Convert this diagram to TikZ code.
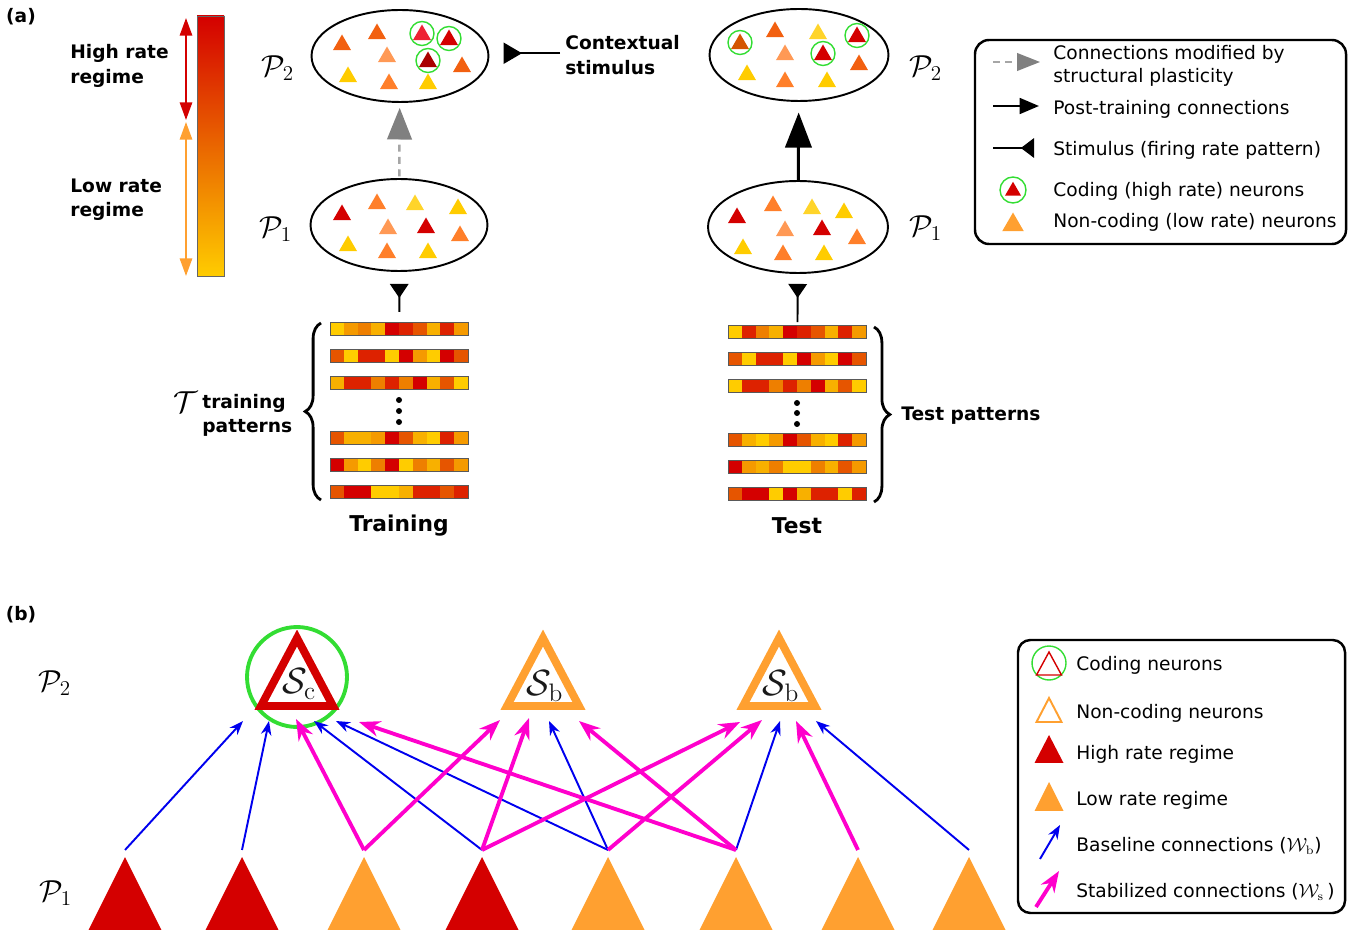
\documentclass[tikz,border=0pt]{standalone}
\usepackage{amsmath}
\usepackage[no-math]{fontspec}
\setmainfont{DejaVu Sans}
\usetikzlibrary{arrows.meta,shapes.geometric,decorations.pathreplacing}

% colours
\definecolor{hired}{HTML}{D40000}
\definecolor{loorange}{HTML}{FFA030}
\definecolor{codegreen}{HTML}{33DD33}
\definecolor{baseblue}{HTML}{0000EE}
\definecolor{stabpink}{HTML}{FF00CC}
\definecolor{nred}{HTML}{D40000}
\definecolor{ndark}{HTML}{AA0000}
\definecolor{nbright}{HTML}{EE2233}
\definecolor{nbrown}{HTML}{D45500}
\definecolor{nored}{HTML}{F26010}
\definecolor{norange}{HTML}{FF7F2A}
\definecolor{nlight}{HTML}{FF9955}
\definecolor{nyellow}{HTML}{FFCC00}
\definecolor{ngold}{HTML}{FFD42A}
\definecolor{ra}{HTML}{D40000}
\definecolor{rb}{HTML}{DD2200}
\definecolor{rc}{HTML}{E65500}
\definecolor{rd}{HTML}{EE7F00}
\definecolor{re}{HTML}{F59A00}
\definecolor{rf}{HTML}{F8B000}
\definecolor{rg}{HTML}{FFCC00}

% one firing rate pattern: left, top, ten cell colours, name
\newcommand{\ratebar}[4]{%
  \foreach \c [count=\k from 0] in {#3}
    \fill[\c] ({#1+13.8*\k},#2) rectangle ++(13.8,13);
  \node[barframe, anchor=north west] (#4) at (#1,#2) {};
}

\begin{document}
\begin{tikzpicture}[x=0.02cm, y=-0.02cm,
    every node/.style={font=\fontsize{10.6}{13.5}\selectfont, inner sep=0pt},
    lbl/.style={font=\fontsize{10.6}{13.8}\selectfont\bfseries, align=left},
    legtext/.style={anchor=west, align=left},
    poplbl/.style={font=\fontsize{17}{20}\selectfont},
    pop/.style={ellipse, draw, line width=1.1pt, minimum width=3.54cm, minimum height=1.84cm},
    neuron/.style={regular polygon, regular polygon sides=3, minimum size=0.42cm},
    ring/.style={circle, draw=codegreen, line width=0.8pt, minimum size=0.48cm},
    barframe/.style={draw=black!65, line width=0.5pt, minimum width=2.76cm, minimum height=0.26cm},
    plastic/.style={draw=black!35, dash pattern=on 4pt off 3pt, line width=1.4pt, -{Triangle[length=18pt, width=14pt, color=black!50]}},
    posttrain/.style={line width=1.7pt, -{Triangle[length=20pt, width=15pt]}},
    stim/.style={line width=1.1pt, -{Triangle[reversed, length=8pt, width=10.5pt]}},
    regime/.style={line width=1.1pt, >={Triangle[length=10pt, width=7pt]}, <->},
    brc/.style={decorate, decoration={brace, amplitude=9pt}, line width=1.6pt},
    tri/.style 2 args={isosceles triangle, isosceles triangle stretches, shape border rotate=90, minimum width=#1, minimum height=#2, outer sep=0pt},
    sgroup/.style={tri={1.44cm}{1.36cm}, line width=4.5pt, fill=white},
    basecon/.style={baseblue, line width=1.1pt, -{Stealth[length=8pt, width=6pt]}},
    stabcon/.style={stabpink, line width=2.2pt, -{Stealth[length=12pt, width=9pt]}}]
  \useasboundingbox (0,0) rectangle (1365,935);

  % (a) rate scale
  \node[lbl] at (21,17) {(a)};
  \shade[top color=hired, bottom color=nyellow] (197,16) rectangle (224,276);
  \draw[black!60, line width=0.5pt] (197,16) rectangle (224,276);
  \draw[regime, hired] (186,18) -- (186,120);
  \draw[regime, loorange] (186,122) -- (186,276);
  \node[lbl, anchor=west] at (70,66) {High rate\\regime};
  \node[lbl, anchor=west] at (70,200) {Low rate\\regime};

  % Populations
  \node[pop] (p2L) at (400,56) {};
  \node[pop] (p1L) at (399,225) {};
  \node[pop, minimum width=3.58cm] (p2R) at (799,55) {};
  \node[pop, minimum width=3.6cm] (p1R) at (798,227) {};
  \node[poplbl] at (278,68) {$\mathcal{P}_2$};
  \node[poplbl] at (276,229) {$\mathcal{P}_1$};
  \node[poplbl] at (926,68) {$\mathcal{P}_2$};
  \node[poplbl] at (926,228) {$\mathcal{P}_1$};

  % neurons inside the populations
  \foreach \x/\y/\c [count=\i] in {342/43/nored, 377/32/nored, 422/33/nbright, 449/38/nred, 387/55/nlight, 428/60/ndark, 462/65/nored, 348/75/nyellow, 389/82/norange, 428/82/nyellow}
    \node[neuron, fill=\c] (twoL\i) at (\x,\y+2) {};
  \foreach \x/\y/\c [count=\i] in {740/42/nbrown, 775/30/nored, 818/32/ngold, 857/35/nred, 785/53/nlight, 823/53/nred, 859/63/nored, 747/73/nyellow, 785/80/norange, 827/80/nyellow}
    \node[neuron, fill=\c] (twoR\i) at (\x,\y+2) {};
  \foreach \x/\y/\c [count=\i] in {342/213/nred, 377/202/norange, 415/203/ngold, 458/207/nyellow, 388/227/nlight, 426/226/nred, 460/234/norange, 348/244/nyellow, 387/251/norange, 428/251/nyellow}
    \node[neuron, fill=\c] (oneL\i) at (\x,\y+2) {};
  \foreach \x/\y/\c [count=\i] in {737/216/nred, 773/204/norange, 812/207/ngold, 844/211/nyellow, 785/229/nlight, 822/228/nred, 857/237/norange, 743/247/nyellow, 783/253/norange, 824/253/nyellow}
    \node[neuron, fill=\c] (oneR\i) at (\x,\y+2) {};
  \foreach \x/\y [count=\i] in {422/33, 449/38, 428/60}
    \node[ring] (codeL\i) at (\x,\y+0.5) {};
  \foreach \x/\y [count=\i] in {740/42, 857/35, 823/53}
    \node[ring] (codeR\i) at (\x,\y+0.5) {};

  % Patterns
  \ratebar{330}{322}{rg,re,rd,rf,ra,rb,rc,rf,rb,re}{trainA}
  \ratebar{330}{349}{rc,rg,rb,rb,rg,ra,re,rg,ra,rc}{trainB}
  \ratebar{330}{376}{rf,rb,rb,rd,rb,rd,ra,rf,rc,rg}{trainC}
  \ratebar{330}{431}{rc,rf,rf,re,ra,rc,rf,rg,rb,re}{trainD}
  \ratebar{330}{458}{ra,re,rg,rd,ra,rg,rd,rf,rc,re}{trainE}
  \ratebar{330}{485}{rc,ra,ra,rg,rg,rf,rb,rb,rc,rb}{trainF}
  \ratebar{728}{325}{rg,rb,rd,rf,ra,rb,rc,rf,rb,re}{testA}
  \ratebar{728}{352}{rc,rg,rb,rb,rg,ra,re,rg,ra,rc}{testB}
  \ratebar{728}{379}{rg,rb,rb,rd,rb,rd,ra,rf,rc,rg}{testC}
  \ratebar{728}{433}{rc,rf,rg,re,ra,rc,rf,rg,rb,re}{testD}
  \ratebar{728}{460}{ra,re,rf,rd,rg,rg,rd,rf,rc,re}{testE}
  \ratebar{728}{487}{rc,ra,ra,rg,ra,rf,rb,rb,rg,rb}{testF}
  \foreach \y in {400,411,422} \fill (399,\y) circle (3);
  \foreach \y in {403,413,424} \fill (797,\y) circle (3);
  \draw[brc] (321,500) -- (321,323);
  \draw[brc] (874,327) -- (874,502);
  \node[poplbl] at (186,402) {$\mathcal{T}$};
  \node[lbl, anchor=west] at (202,415) {training\\patterns};
  \node[lbl, anchor=west] at (901,416) {Test patterns};
  \node[lbl, font=\fontsize{12.4}{14}\selectfont\bfseries] at (399,526) {Training};
  \node[lbl, font=\fontsize{12.4}{14}\selectfont\bfseries] at (797,526) {Test};
  \node[lbl, anchor=west] (ctx) at (565,55) {Contextual\\stimulus};

  % Edges
  \draw[plastic, shorten <=1pt, shorten >=2.8pt] (p1L) -- (p2L);
  \draw[posttrain, shorten >=6pt] (p1R) -- (p2R);
  \draw[stim, shorten <=5.7pt, shorten >=6.8pt] (trainA) -- (p1L);
  \draw[stim, shorten <=1.7pt, shorten >=5.7pt] (testA) -- (p1R);
  \draw[stim, -{Triangle[reversed, length=10.5pt, width=12pt]}, shorten <=2.8pt, shorten >=8pt] ([yshift=1pt]ctx.west) -- ([yshift=1pt]ctx.west -| p2L.east);

  % Legend (a)
  \draw[line width=1.4pt, rounded corners=8pt] (975,40) rectangle (1346,244);
  \draw[plastic, line width=1.1pt, -{Triangle[length=13pt, width=10pt, color=black!50]}] (993,62) -- (1040,62);
  \node[legtext] at (1053,66) {Connections modified by\\structural plasticity};
  \draw[posttrain, line width=1.3pt, -{Triangle[length=11pt, width=9pt]}] (993,106) -- (1039,106);
  \node[legtext] at (1053,109) {Post-training connections};
  \draw[stim, -{Triangle[reversed, length=7.5pt, width=11pt]}] (993,148) -- (1034,148);
  \node[legtext] at (1053,150) {Stimulus (firing rate pattern)};
  \node[ring, minimum size=0.52cm] (keyring) at (1013,190) {};
  \node[neuron, fill=hired, minimum size=0.37cm] (keyhigh) at (1013,191) {};
  \node[legtext] at (1053,191) {Coding (high rate) neurons};
  \node[neuron, fill=loorange, minimum size=0.5cm] (keylow) at (1013,225) {};
  \node[legtext] at (1053,222) {Non-coding (low rate) neurons};

  % (b) Nodes
  \node[lbl] at (21,615) {(b)};
  \node[poplbl] at (55,683) {$\mathcal{P}_2$};
  \node[poplbl] at (56,893) {$\mathcal{P}_1$};
  \node[circle, draw=codegreen, line width=2.2pt, minimum size=2cm] (scring) at (297,677) {};
  \node[sgroup, draw=hired, anchor=apex] (sc) at (297,638) {};
  \node[sgroup, draw=loorange, anchor=apex] (sbone) at (543,638) {};
  \node[sgroup, draw=loorange, anchor=apex] (sbtwo) at (779,638) {};
  \node[font=\fontsize{22}{24}\selectfont, text=black!90] at (299,684) {$\mathcal{S}_\mathrm{c}$};
  \node[font=\fontsize{22}{24}\selectfont, text=black!90] at (545,686) {$\mathcal{S}_\mathrm{b}$};
  \node[font=\fontsize{22}{24}\selectfont, text=black!90] at (781,686) {$\mathcal{S}_\mathrm{b}$};
  \node[tri={1.46cm}{1.46cm}, fill=hired, anchor=apex] (src1) at (125,857) {};
  \node[tri={1.46cm}{1.46cm}, fill=hired, anchor=apex] (src2) at (242,857) {};
  \node[tri={1.46cm}{1.46cm}, fill=loorange, anchor=apex] (src3) at (364,857) {};
  \node[tri={1.46cm}{1.46cm}, fill=hired, anchor=apex] (src4) at (482,857) {};
  \node[tri={1.46cm}{1.46cm}, fill=loorange, anchor=apex] (src5) at (608,857) {};
  \node[tri={1.46cm}{1.46cm}, fill=loorange, anchor=apex] (src6) at (736,857) {};
  \node[tri={1.46cm}{1.46cm}, fill=loorange, anchor=apex] (src7) at (858,857) {};
  \node[tri={1.46cm}{1.46cm}, fill=loorange, anchor=apex] (src8) at (969,857) {};

  % (b) Edges
  \draw[basecon] ([yshift=4pt]src1.apex) -- ([shift={(-54,83)}]sc.apex);
  \draw[basecon] ([yshift=4pt]src2.apex) -- ([shift={(-28,83)}]sc.apex);
  \draw[basecon] ([yshift=4pt]src4.apex) -- ([shift={(17,83)}]sc.apex);
  \draw[basecon] ([yshift=4pt]src5.apex) -- ([shift={(39,83)}]sc.apex);
  \draw[basecon] ([yshift=4pt]src5.apex) -- ([shift={(6,83)}]sbone.apex);
  \draw[basecon] ([yshift=4pt]src6.apex) -- ([shift={(1,83)}]sbtwo.apex);
  \draw[basecon] ([yshift=4pt]src8.apex) -- ([shift={(37,83)}]sbtwo.apex);
  \draw[stabcon] ([yshift=4pt]src3.apex) -- ([shift={(-1,81)}]sc.apex);
  \draw[stabcon] ([yshift=4pt]src6.apex) -- ([shift={(62,84)}]sc.apex);
  \draw[stabcon] ([yshift=4pt]src3.apex) -- ([shift={(-43,82)}]sbone.apex);
  \draw[stabcon] ([yshift=4pt]src4.apex) -- ([shift={(-14,80)}]sbone.apex);
  \draw[stabcon] ([yshift=4pt]src6.apex) -- ([shift={(36,83)}]sbone.apex);
  \draw[stabcon] ([yshift=4pt]src4.apex) -- ([shift={(-39,84)}]sbtwo.apex);
  \draw[stabcon] ([yshift=4pt]src5.apex) -- ([shift={(-17,82)}]sbtwo.apex);
  \draw[stabcon] ([yshift=4pt]src7.apex) -- ([shift={(17,83)}]sbtwo.apex);

  % Legend (b)
  \draw[line width=1.4pt, rounded corners=7pt] (1018,640) rectangle (1345,913);
  \node[circle, draw=codegreen, line width=0.8pt, minimum size=0.68cm] (kcode) at (1049,663) {};
  \node[tri={0.5cm}{0.46cm}, draw=hired, line width=0.8pt, anchor=apex] (kcodetri) at (1049,652) {};
  \node[legtext] at (1076,665) {Coding neurons};
  \node[tri={0.5cm}{0.48cm}, draw=loorange, line width=1.1pt, anchor=apex] (knon) at (1049,698) {};
  \node[legtext] at (1076,713) {Non-coding neurons};
  \node[tri={0.58cm}{0.56cm}, fill=hired, anchor=apex] (khigh) at (1049,735) {};
  \node[legtext] at (1076,754) {High rate regime};
  \node[tri={0.58cm}{0.58cm}, fill=loorange, anchor=apex] (klow) at (1049,782) {};
  \node[legtext] at (1076,800) {Low rate regime};
  \draw[basecon] (1040,859) -- (1060,825);
  \node[legtext] at (1076,846) {Baseline connections ($\mathcal{W}_\mathrm{b}$)};
  \draw[stabcon] (1036,907) -- (1059,871);
  \node[legtext] at (1076,892) {Stabilized connections ($\mathcal{W}_\mathrm{s}$\,)};
\end{tikzpicture}
\end{document}
